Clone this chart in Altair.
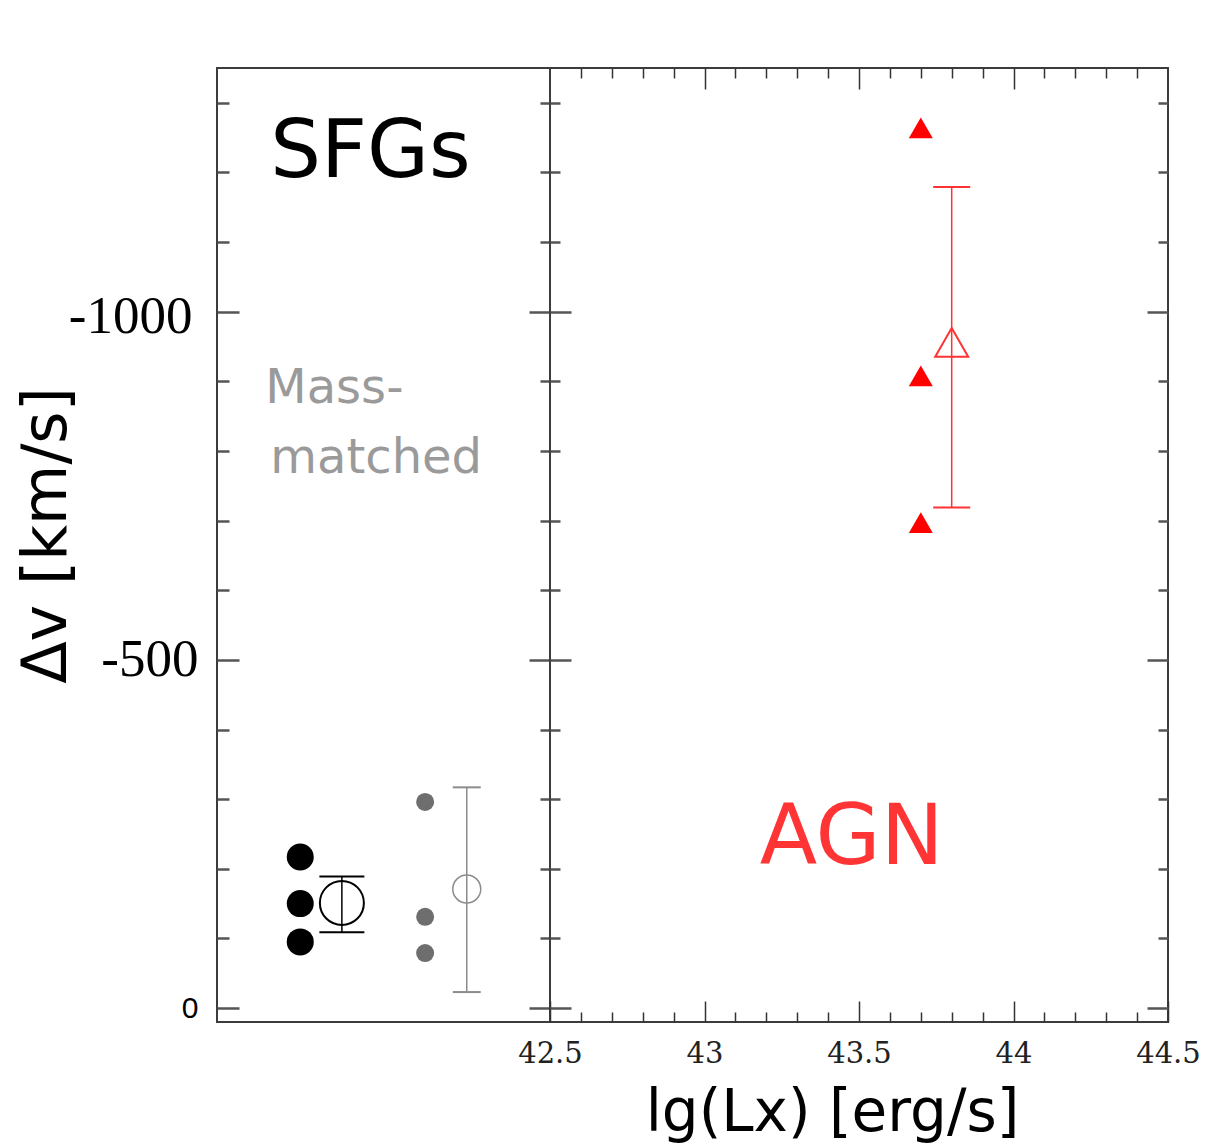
import altair as alt
import pandas as pd

# ---------------- data ----------------
y_domain = [-1350, 20]
left_x_domain = [0, 1]
right_x_domain = [42.5, 44.5]

# SFGs (left panel, black)
sfg_x = [0.25, 0.25, 0.25]
sfg_dv = [-217, -150, -95]
sfg_mean_x = [0.375]
sfg_mean_dv = [-151]
sfg_err_lo = [-189]
sfg_err_hi = [-109]

# Mass-matched (left panel, gray)
mm_x = [0.625, 0.625, 0.625]
mm_dv = [-296, -131, -79]
mm_mean_x = [0.75]
mm_mean_dv = [-171]
mm_err_lo = [-317]
mm_err_hi = [-23]

# AGN (right panel, red)
agn_x = [43.7, 43.7, 43.7]
agn_dv = [-1264, -908, -697]
agn_mean_x = [43.8]
agn_mean_dv = [-956]
agn_err_lo = [-1179]
agn_err_hi = [-719]

# ticks
y_major = [-1000, -500, 0]
y_minor = [-1300, -1200, -1100, -900, -800, -700, -600, -400, -300, -200, -100]
x_major = [42.5, 43.0, 43.5, 44.0, 44.5]
x_top_major = [43.0, 43.5, 44.0]
x_minor = [42.6, 42.7, 42.8, 42.9, 43.1, 43.2, 43.3, 43.4,
           43.6, 43.7, 43.8, 43.9, 44.1, 44.2, 44.3, 44.4]

# annotations
left_big_text = ["SFGs"]
left_big_x = [0.16]
left_big_y = [-1228]
mm_text = ["Mass-", "matched"]
mm_text_x = [0.145, 0.16]
mm_text_y = [-889, -789]
agn_text = ["AGN"]
agn_text_x = [43.476]
agn_text_y = [-243]

Y_TICK = "#555555"
X_TICK = "#333333"
RED = "#ff0000"


def ysc():
    return alt.Scale(domain=y_domain, reverse=True, nice=False, zero=False)


def xsc(dom):
    return alt.Scale(domain=dom, nice=False, zero=False)


def tick_axis(orient, values, size, color, width, **extra):
    params = dict(orient=orient, values=values, tickSize=size, offset=-size,
                  domain=False, grid=False, labels=False, title=None,
                  tickColor=color, tickWidth=width, ticks=True)
    params.update(extra)
    return alt.Axis(**params)


def axis_layer(xdom, xaxis, yaxis):
    df = pd.DataFrame({"x": [xdom[0] + (xdom[1] - xdom[0]) / 2], "y": [-500]})
    return alt.Chart(df).mark_point(opacity=0).encode(
        x=alt.X("x:Q", scale=xsc(xdom), axis=xaxis),
        y=alt.Y("y:Q", scale=ysc(), axis=yaxis),
    )


def pts(xs, ys):
    return pd.DataFrame({"x": xs, "y": ys})


def enc(chart, xdom, y="y:Q"):
    return chart.encode(
        x=alt.X("x:Q", scale=xsc(xdom), axis=None),
        y=alt.Y(y, scale=ysc(), axis=None),
    )


# ---------------- left panel ----------------
left_y_main = tick_axis(
    "left", y_major, 22, Y_TICK, 2.5,
    labels=True,
    labelExpr="(datum.value < 0 ? '-' : '') + abs(datum.value)",
    labelFont={"condition": {"test": "datum.value === 0", "value": "Liberation Sans"},
               "value": "Liberation Serif"},
    labelFontSize={"condition": {"test": "datum.value === 0", "value": 30}, "value": 53},
    labelPadding={"condition": {"test": "datum.value === -1000", "value": 25}, "value": 19},
    labelOffset={"condition": {"test": "datum.value === -1000", "value": 5}, "value": 0},
    labelColor="#000000", labelOverlap=False,
    title="Δv [km/s]", titleFont="DejaVu Sans", titleFontSize=62,
    titleFontWeight="normal", titleColor="#000000",
    titleX=-161, titleY=467,
)

L = left_x_domain
left_axes = [
    axis_layer(L, None, left_y_main),
    axis_layer(L, None, tick_axis("left", y_minor, 12, Y_TICK, 2.5)),
    axis_layer(L, None, tick_axis("right", y_major, 21, Y_TICK, 2.5)),
    axis_layer(L, None, tick_axis("right", y_minor, 10, Y_TICK, 2.5)),
]

sfg_pts = enc(alt.Chart(pts(sfg_x, sfg_dv)).mark_circle(size=729, color="#000000", opacity=1), L)
sfg_rule = alt.Chart(pd.DataFrame({"x": sfg_mean_x, "lo": sfg_err_lo, "hi": sfg_err_hi})).mark_rule(
    color="#000000", strokeWidth=1.5).encode(
    x=alt.X("x:Q", scale=xsc(L), axis=None),
    y=alt.Y("lo:Q", scale=ysc(), axis=None), y2="hi:Q")
sfg_caps = enc(alt.Chart(pts(sfg_mean_x * 2, sfg_err_lo + sfg_err_hi)).mark_tick(
    orient="horizontal", size=45, thickness=2, color="#000000", opacity=1), L)
sfg_mean = enc(alt.Chart(pts(sfg_mean_x, sfg_mean_dv)).mark_point(
    shape="circle", size=1936, filled=False, stroke="#000000", strokeWidth=2, opacity=1), L)

MM_PT = "#6e6e6e"
MM_LN = "#8c8c8c"
mm_pts = enc(alt.Chart(pts(mm_x, mm_dv)).mark_circle(size=324, color=MM_PT, opacity=1), L)
mm_rule = alt.Chart(pd.DataFrame({"x": mm_mean_x, "lo": mm_err_lo, "hi": mm_err_hi})).mark_rule(
    color=MM_LN, strokeWidth=1.5).encode(
    x=alt.X("x:Q", scale=xsc(L), axis=None),
    y=alt.Y("lo:Q", scale=ysc(), axis=None), y2="hi:Q")
mm_caps = enc(alt.Chart(pts(mm_mean_x * 2, mm_err_lo + mm_err_hi)).mark_tick(
    orient="horizontal", size=28, thickness=2, color=MM_LN, opacity=1), L)
mm_mean = enc(alt.Chart(pts(mm_mean_x, mm_mean_dv)).mark_point(
    shape="circle", size=784, filled=False, stroke=MM_LN, strokeWidth=1.5, opacity=1), L)

sfg_label = alt.Chart(pd.DataFrame({"x": left_big_x, "y": left_big_y, "t": left_big_text})).mark_text(
    font="DejaVu Sans", fontSize=80, color="#000000", align="left", baseline="middle").encode(
    x=alt.X("x:Q", scale=xsc(L), axis=None), y=alt.Y("y:Q", scale=ysc(), axis=None), text="t:N")
mm_label = alt.Chart(pd.DataFrame({"x": mm_text_x, "y": mm_text_y, "t": mm_text})).mark_text(
    font="DejaVu Sans", fontSize=48, color="#9a9a9a", align="left", baseline="middle").encode(
    x=alt.X("x:Q", scale=xsc(L), axis=None), y=alt.Y("y:Q", scale=ysc(), axis=None), text="t:N")

left = alt.layer(*left_axes, sfg_rule, sfg_caps, sfg_mean, sfg_pts,
                 mm_rule, mm_caps, mm_mean, mm_pts, sfg_label, mm_label).resolve_axis(
    x="independent", y="independent").properties(width=333, height=954)

# ---------------- right panel ----------------
R = right_x_domain
bottom_main = tick_axis(
    "bottom", x_major, 21, X_TICK, 1.5,
    labels=True, labelExpr="'' + datum.value",
    labelFont="DejaVu Serif", labelFontSize=29, labelColor="#222222",
    labelPadding=17, labelFlush=False, labelOverlap=False,
    title="lg(Lx) [erg/s]", titleFont="DejaVu Sans", titleFontSize=58,
    titleFontWeight="normal", titleColor="#000000", titlePadding=16, titleX=282,
)
right_axes = [
    axis_layer(R, bottom_main, tick_axis("left", y_major, 21, Y_TICK, 2.5)),
    axis_layer(R, tick_axis("bottom", x_minor, 10, X_TICK, 1.5),
               tick_axis("left", y_minor, 10, Y_TICK, 2.5)),
    axis_layer(R, tick_axis("top", x_top_major, 21, X_TICK, 1.5),
               tick_axis("right", y_major, 21, Y_TICK, 2.5)),
    axis_layer(R, tick_axis("top", x_minor, 10, X_TICK, 1.5),
               tick_axis("right", y_minor, 10, Y_TICK, 2.5)),
]

RED_LN = "#ff3333"
agn_pts = enc(alt.Chart(pts(agn_x, agn_dv)).mark_point(
    shape="triangle-up", filled=True, size=576, color=RED, opacity=1), R)
agn_rule = alt.Chart(pd.DataFrame({"x": agn_mean_x, "lo": agn_err_lo, "hi": agn_err_hi})).mark_rule(
    color=RED_LN, strokeWidth=1.5).encode(
    x=alt.X("x:Q", scale=xsc(R), axis=None),
    y=alt.Y("lo:Q", scale=ysc(), axis=None), y2="hi:Q")
agn_caps = enc(alt.Chart(pts(agn_mean_x * 2, agn_err_lo + agn_err_hi)).mark_tick(
    orient="horizontal", size=37, thickness=2, color=RED_LN, opacity=1), R)
agn_mean = enc(alt.Chart(pts(agn_mean_x, agn_mean_dv)).mark_point(
    shape="triangle-up", size=1089, filled=False, stroke=RED_LN, strokeWidth=2, opacity=1), R)
agn_label = alt.Chart(pd.DataFrame({"x": agn_text_x, "y": agn_text_y, "t": agn_text})).mark_text(
    font="DejaVu Sans", fontSize=84, color="#ff3535", align="center", baseline="middle").encode(
    x=alt.X("x:Q", scale=xsc(R), axis=None), y=alt.Y("y:Q", scale=ysc(), axis=None), text="t:N")

right = alt.layer(*right_axes, agn_rule, agn_caps, agn_mean, agn_pts, agn_label).resolve_axis(
    x="independent", y="independent").properties(width=618, height=954)

chart = alt.hconcat(left, right, spacing=0, bounds="flush").properties(
    padding={"left": 6, "top": 58, "right": 5, "bottom": 0}
).configure_view(stroke="#3c3c3c", strokeWidth=2)

chart.save("out.html", embed_options={"renderer": "svg", "actions": False})
